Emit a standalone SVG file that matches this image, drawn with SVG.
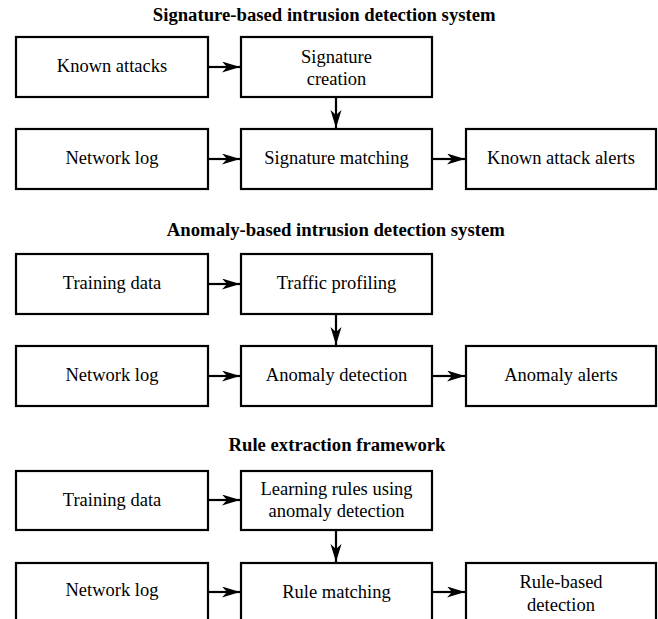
<svg xmlns="http://www.w3.org/2000/svg" width="658" height="619" viewBox="0 0 658 619">
<style>
.box{fill:#fff;stroke:#000;stroke-width:2.2}
.t{font-family:"Liberation Serif","Times New Roman",serif;font-size:18.5px;fill:#000;text-anchor:middle}
.h{font-family:"Liberation Serif","Times New Roman",serif;font-size:18.7px;font-weight:bold;fill:#000;text-anchor:middle}
.c{stroke:#000;stroke-width:2.2;fill:none;marker-end:url(#ah)}
</style>
<defs>
<marker id="ah" markerUnits="userSpaceOnUse" markerWidth="20" markerHeight="12" refX="18" refY="5.5" orient="auto">
<path d="M0,0 L18,5.5 L0,11 L5,5.5 z" fill="#000"/>
</marker>
</defs>
<rect width="658" height="619" fill="#fff"/>

<text class="h" x="324.2" y="20.7">Signature-based intrusion detection system</text>
<text class="h" x="335.8" y="235.7">Anomaly-based intrusion detection system</text>
<text class="h" x="337" y="450.7">Rule extraction framework</text>

<g id="s1-known-attacks"><rect class="box" x="16" y="37" width="192" height="60"/><text class="t" x="112" y="72">Known attacks</text></g>
<g id="s1-signature-creation"><rect class="box" x="241" y="37" width="191" height="60"/><text class="t" x="336.5" y="62.5">Signature</text><text class="t" x="336.5" y="85">creation</text></g>
<g id="s1-network-log"><rect class="box" x="16" y="129" width="192" height="60"/><text class="t" x="112" y="164">Network log</text></g>
<g id="s1-signature-matching"><rect class="box" x="241" y="129" width="191" height="60"/><text class="t" x="336.5" y="164">Signature matching</text></g>
<g id="s1-known-attack-alerts"><rect class="box" x="466" y="129" width="190" height="60"/><text class="t" x="561" y="164">Known attack alerts</text></g>

<g id="s2-training-data"><rect class="box" x="16" y="254" width="192" height="60"/><text class="t" x="112" y="289">Training data</text></g>
<g id="s2-traffic-profiling"><rect class="box" x="241" y="254" width="191" height="60"/><text class="t" x="336.5" y="289">Traffic profiling</text></g>
<g id="s2-network-log"><rect class="box" x="16" y="346" width="192" height="60"/><text class="t" x="112" y="381">Network log</text></g>
<g id="s2-anomaly-detection"><rect class="box" x="241" y="346" width="191" height="60"/><text class="t" x="336.5" y="381">Anomaly detection</text></g>
<g id="s2-anomaly-alerts"><rect class="box" x="466" y="346" width="190" height="60"/><text class="t" x="561" y="381">Anomaly alerts</text></g>

<g id="s3-training-data"><rect class="box" x="16" y="471" width="192" height="59"/><text class="t" x="112" y="505.5">Training data</text></g>
<g id="s3-learning-rules"><rect class="box" x="241" y="471" width="191" height="59"/><text class="t" x="336.5" y="494.5">Learning rules using</text><text class="t" x="336.5" y="517">anomaly detection</text></g>
<g id="s3-network-log"><rect class="box" x="16" y="563" width="192" height="60"/><text class="t" x="112" y="596">Network log</text></g>
<g id="s3-rule-matching"><rect class="box" x="241" y="563" width="191" height="60"/><text class="t" x="336.5" y="598">Rule matching</text></g>
<g id="s3-rule-based-detection"><rect class="box" x="466" y="563" width="190" height="60"/><text class="t" x="561" y="588">Rule-based</text><text class="t" x="561" y="611">detection</text></g>

<g id="connectors">
<line class="c" x1="209" y1="67" x2="240" y2="67"/>
<line class="c" x1="336" y1="98" x2="336" y2="128"/>
<line class="c" x1="209" y1="159" x2="240" y2="159"/>
<line class="c" x1="433" y1="159" x2="465" y2="159"/>

<line class="c" x1="209" y1="284" x2="240" y2="284"/>
<line class="c" x1="336" y1="315" x2="336" y2="345"/>
<line class="c" x1="209" y1="376" x2="240" y2="376"/>
<line class="c" x1="433" y1="376" x2="465" y2="376"/>

<line class="c" x1="209" y1="500" x2="240" y2="500"/>
<line class="c" x1="336" y1="531" x2="336" y2="562"/>
<line class="c" x1="209" y1="592" x2="240" y2="592"/>
<line class="c" x1="433" y1="592" x2="465" y2="592"/>
</g>
</svg>
